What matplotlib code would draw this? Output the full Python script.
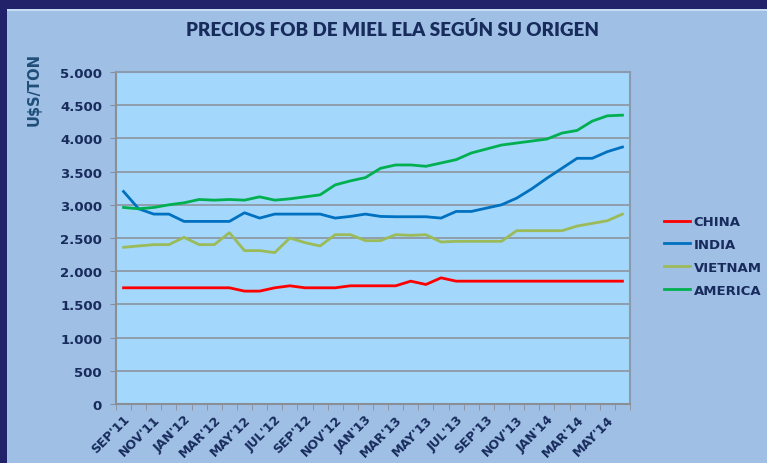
import matplotlib.pyplot as plt
import matplotlib.patches as mpatches
import numpy as np

# DATA
months = ["SEP'11", "OCT'11", "NOV'11", "DIC'11", "JAN'12", "FEB'12", "MAR'12", "APR'12",
          "MAY'12", "JUN'12", "JUL'12", "AUG'12", "SEP'12", "OCT'12", "NOV'12", "DIC'12",
          "JAN'13", "FEB'13", "MAR'13", "APR'13", "MAY'13", "JUN'13", "JUL'13", "AUG'13",
          "SEP'13", "OCT'13", "NOV'13", "DIC'13", "JAN'14", "FEB'14", "MAR'14", "APR'14",
          "MAY'14", "JUN'14"]

china = [1750, 1750, 1750, 1750, 1750, 1750, 1750, 1750, 1700, 1700, 1750, 1780,
         1750, 1750, 1750, 1780, 1780, 1780, 1780, 1850, 1800, 1900, 1850, 1850,
         1850, 1850, 1850, 1850, 1850, 1850, 1850, 1850, 1850, 1850]
india = [3200, 2940, 2860, 2860, 2750, 2750, 2750, 2750, 2880, 2800, 2860, 2860,
         2860, 2860, 2800, 2825, 2860, 2825, 2820, 2820, 2820, 2800, 2900, 2900,
         2950, 3000, 3100, 3240, 3400, 3550, 3700, 3700, 3800, 3870]
vietnam = [2360, 2380, 2400, 2400, 2510, 2400, 2400, 2580, 2310, 2310, 2280, 2500,
           2430, 2380, 2550, 2550, 2460, 2460, 2550, 2540, 2550, 2440, 2450, 2450,
           2450, 2450, 2610, 2610, 2610, 2610, 2680, 2720, 2760, 2860]
america = [2960, 2940, 2960, 3000, 3030, 3080, 3070, 3080, 3070, 3120, 3070, 3090,
           3120, 3150, 3300, 3360, 3410, 3550, 3600, 3600, 3580, 3630, 3680, 3780,
           3840, 3900, 3930, 3960, 3990, 4080, 4120, 4260, 4340, 4350]

series = [("CHINA", china, "#ff0000"),
          ("INDIA", india, "#0070c0"),
          ("VIETNAM", vietnam, "#9bbb59"),
          ("AMERICA", america, "#00b050")]

txt = "#172b5c"

fig = plt.figure(figsize=(7.67, 4.64), dpi=100)
fig.patch.set_facecolor("#22226a")
# light panel behind everything
fig.patches.append(mpatches.Rectangle((7 / 767, 0), 1, 1 - 10 / 464,
                                      transform=fig.transFigure,
                                      facecolor="#9fbfe4", edgecolor="none", zorder=-2))
fig.patches.append(mpatches.Rectangle((7 / 767, 1 - 12 / 464), 1, 2 / 464,
                                      transform=fig.transFigure,
                                      facecolor="#c6dcf2", edgecolor="none", zorder=-1))

ax = fig.add_axes([116 / 767, 1 - 405 / 464, (630 - 116) / 767, (405 - 73) / 464])
ax.set_facecolor("#a3d7fb")

x = np.arange(len(months))
for name, vals, col in series:
    ax.plot(x, vals, color=col, lw=2, label=name, zorder=3)

ax.set_xlim(-0.5, len(months) - 0.5)
ax.set_ylim(0, 5000)
ax.set_yticks(np.arange(0, 5001, 500))
ax.set_yticklabels([f"{v:,}".replace(",", ".") for v in range(0, 5001, 500)],
                   fontsize=9.5, fontweight="bold", color=txt)
ax.yaxis.grid(True, color="#8a8f96", lw=1.1)
ax.set_axisbelow(True)

ax.set_xticks(np.arange(-0.5, len(months), 1), minor=True)
ax.set_xticks(x[::2])
ax.set_xticklabels(months[::2], rotation=45, ha="right", rotation_mode="anchor",
                   fontsize=9, fontweight="bold", color=txt)
ax.tick_params(axis="x", which="major", length=0, pad=6)
ax.tick_params(axis="x", which="minor", length=4, color="#8a8f96")
ax.tick_params(axis="y", length=4, color="#8a8f96", pad=6)

for s in ["top", "right"]:
    ax.spines[s].set_color("#8a9bb0")
    ax.spines[s].set_linewidth(1.5)
for s in ["left", "bottom"]:
    ax.spines[s].set_color("#8a8f96")
    ax.spines[s].set_linewidth(1.5)

fig.text(393 / 767, 1 - 30 / 464, "PRECIOS FOB DE MIEL ELA SEGÚN SU ORIGEN",
         ha="center", va="center", fontsize=13.5, fontweight="heavy", color=txt,
         family="Lato")
fig.text(34 / 767, 1 - 90 / 464, "U$S/TON", rotation=90, ha="center", va="center",
         fontsize=10.5, fontweight="bold", color="#1f4e79")

leg = fig.legend(loc="center left", bbox_to_anchor=(664 / 767, 1 - 257 / 464),
                 frameon=False, handlelength=2.0, handletextpad=0.25, labelspacing=0.75,
                 borderpad=0, borderaxespad=0,
                 prop={"weight": "bold", "size": 9.5})
for t in leg.get_texts():
    t.set_color(txt)

fig.savefig("out.png", dpi=100, facecolor=fig.get_facecolor())
